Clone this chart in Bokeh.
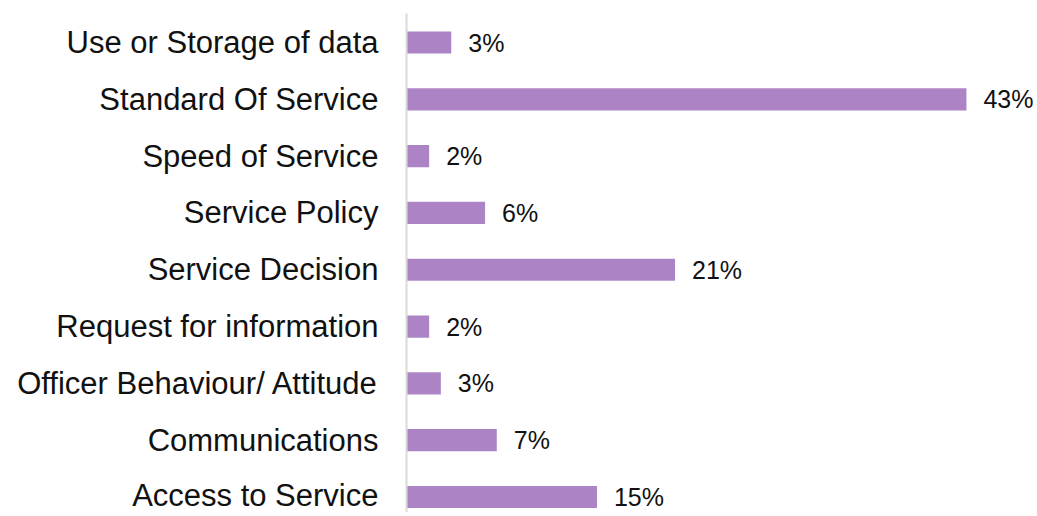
from bokeh.plotting import figure
from bokeh.models import ColumnDataSource, LabelSet, Range1d, FixedTicker
from bokeh.core.properties import value
from bokeh.embed import file_html
from bokeh.resources import INLINE

# Data (top to bottom as shown)
categories = [
    "Use or Storage of data",
    "Standard Of Service",
    "Speed of Service",
    "Service Policy",
    "Service Decision",
    "Request for information",
    "Officer Behaviour/ Attitude",
    "Communications",
    "Access to Service",
]
values = [3.4, 43.0, 1.7, 6.0, 20.6, 1.7, 2.6, 6.9, 14.6]
labels = ["3%", "43%", "2%", "6%", "21%", "2%", "3%", "7%", "15%"]

n = len(categories)
positions = [n - 1 - i for i in range(n)]  # top category at highest y

source = ColumnDataSource(dict(pos=positions, val=values, lab=labels, cat=categories))

p = figure(
    width=1034, height=512,
    output_backend="svg", toolbar_location=None,
    x_range=Range1d(-0.04, 48.23),
    y_range=Range1d(-0.273, 8.511),
    x_axis_location=None,
    min_border_left=406, min_border_right=0,
    min_border_top=13, min_border_bottom=0,
)
p.outline_line_color = None
p.grid.visible = False
p.background_fill_color = "white"
p.border_fill_color = "white"

p.hbar(y="pos", right="val", left=0, height=0.39, source=source,
       fill_color="#AC84C6", line_color=None)

ax = p.yaxis[0]
ax.ticker = FixedTicker(ticks=positions)
ax.major_label_overrides = {pos: cat for pos, cat in zip(positions, categories)}
ax.axis_line_color = "#D9D9D9"
ax.axis_line_width = 2
ax.major_tick_line_color = None
ax.minor_tick_line_color = None
ax.major_tick_out = 0
ax.major_tick_in = 0
ax.major_label_standoff = 28
ax.major_label_text_font = "Liberation Sans"
ax.major_label_text_font_size = "31px"
ax.major_label_text_color = "#111111"

p.add_layout(LabelSet(
    x="val", y="pos", text="lab", source=source,
    x_offset=17, text_baseline="middle", text_align="left",
    text_font=value("Liberation Sans"), text_font_size="25px", text_color="#111111",
))

open("out.html", "w").write(file_html(p, INLINE))
